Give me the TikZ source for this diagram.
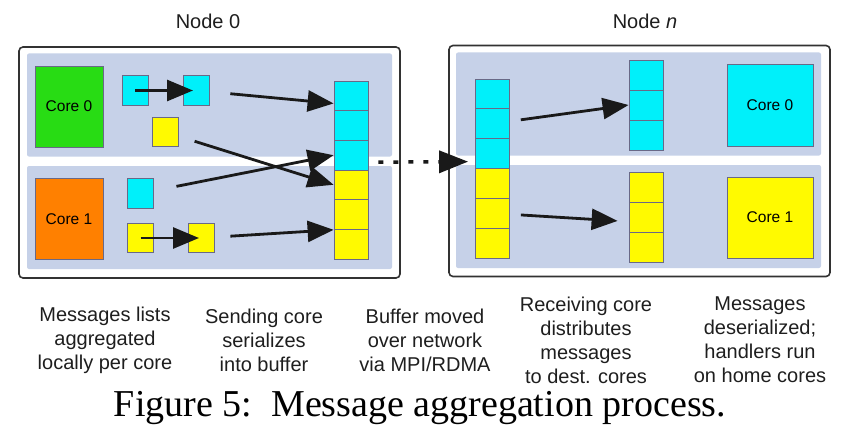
\documentclass[tikz,border=0pt]{standalone}
\usepackage{fontspec}
\setmainfont{Liberation Sans}
\newfontfamily\capfont{Liberation Serif}
\usepackage{xcolor}
\usetikzlibrary{arrows.meta,calc}
\definecolor{panelblue}{RGB}{198,209,232}
\definecolor{cellline}{RGB}{105,105,135}
\definecolor{boxline}{RGB}{50,50,50}
\definecolor{cyanmsg}{RGB}{0,240,250}
\definecolor{yellowmsg}{RGB}{255,250,0}
\definecolor{greencore}{RGB}{40,220,20}
\definecolor{orangecore}{RGB}{255,128,0}
\definecolor{textgray}{RGB}{30,30,30}

\begin{document}
\begin{tikzpicture}[x=1pt,y=-1pt,>={Triangle[length=26pt,width=21pt]},
 outer/.style={draw=boxline,fill=white,line width=1.6pt,rounded corners=4pt,minimum width=381pt,minimum height=231pt,inner sep=0pt},
 panel/.style={fill=panelblue,rounded corners=2pt,minimum width=365pt,minimum height=103pt,inner sep=0pt},
 core/.style={draw=cellline,line width=0.8pt,minimum width=68pt,minimum height=81pt,inner sep=0pt,font=\fontsize{15.5}{18}\selectfont},
 msg/.style={draw=cellline,line width=0.8pt,minimum width=26pt,minimum height=29.5pt,inner sep=0pt},
 cell/.style={draw=cellline,line width=0.8pt,minimum width=34pt,minimum height=29.8pt,inner sep=0pt},
 title/.style={font=\fontsize{20}{24}\selectfont,text=textgray},
 phase/.style={font=\fontsize{20}{24}\selectfont,align=center,text=textgray},
 flow/.style={line width=2.8pt,black!90},
 netlink/.style={line width=3.5pt,dash pattern=on 5pt off 10pt,shorten <=10pt,shorten >=7pt,
  -{Triangle[length=29pt,width=22pt]}}]
 \useasboundingbox (0,0) rectangle (843,436);

 \node[title] (lnode) at (208, 21) {Node 0};
 \node[title] (rnode) at (645, 21) {Node \textit{n}};

 \node[outer] (lbox) at (209.5, 162.5) {};
 \node[panel] (lup) at (209.5, 105) {};
 \node[panel] (llow) at (209.5, 217.5) {};
 \node[core,fill=greencore] (lcore0) at (69, 106.5) {Core 0};
 \node[core,fill=orangecore] (lcore1) at (69, 219) {Core 1};
 \node[msg,fill=cyanmsg] (c1) at (135, 90.5) {};
 \node[msg,fill=cyanmsg] (c2) at (196, 90.5) {};
 \node[msg,fill=yellowmsg] (ya) at (165, 132) {};
 \node[msg,fill=cyanmsg] (cb) at (140.5, 193.5) {};
 \node[msg,fill=yellowmsg] (yb1) at (140.5, 238) {};
 \node[msg,fill=yellowmsg] (yb2) at (201, 238) {};
 \node[cell,fill=cyanmsg] (buf1) at (351, 95.8) {};
 \node[cell,fill=cyanmsg] (buf2) at (351, 125.5) {};
 \node[cell,fill=cyanmsg] (buf3) at (351, 155.2) {};
 \node[cell,fill=yellowmsg] (buf4) at (351, 184.8) {};
 \node[cell,fill=yellowmsg] (buf5) at (351, 214.5) {};
 \node[cell,fill=yellowmsg] (buf6) at (351, 244.2) {};

 \node[outer] (rbox) at (639.5, 161) {};
 \node[panel] (rup) at (638.5, 104) {};
 \node[panel] (rlow) at (638.5, 216.5) {};
 \node[cell,fill=cyanmsg] (rb1) at (492.5, 93.9) {};
 \node[cell,fill=cyanmsg] (rb2) at (492.5, 123.7) {};
 \node[cell,fill=cyanmsg] (rb3) at (492.5, 153.6) {};
 \node[cell,fill=yellowmsg] (rb4) at (492.5, 183.4) {};
 \node[cell,fill=yellowmsg] (rb5) at (492.5, 213.2) {};
 \node[cell,fill=yellowmsg] (rb6) at (492.5, 243.1) {};
 \node[cell,fill=cyanmsg] (ru1) at (646, 75) {};
 \node[cell,fill=cyanmsg] (ru2) at (646, 105) {};
 \node[cell,fill=cyanmsg] (ru3) at (646, 135) {};
 \node[cell,fill=yellowmsg] (rl1) at (646, 187) {};
 \node[cell,fill=yellowmsg] (rl2) at (646, 217) {};
 \node[cell,fill=yellowmsg] (rl3) at (646, 247) {};
 \node[core,fill=cyanmsg,minimum width=86pt,minimum height=82pt] (rcore0) at (770, 105) {Core 0};
 \node[core,fill=yellowmsg,minimum width=86pt] (rcore1) at (770, 217.5) {Core 1};

 \path[->,flow]
 (c1.center) edge[shorten >=3pt] (c2.center)
 (c2) edge[shorten <=21pt] ($(buf1.west)!0.5!(buf1.south west)$)
 (ya) edge[shorten <=17pt] (buf4.west)
 (cb) edge[shorten <=23pt] (buf3.west)
 (yb1.center) edge[shorten >=2pt] (yb2.center)
 (yb2) edge[shorten <=16pt] (buf5.south west)
 ([yshift=-7pt]buf3.east) edge[netlink] ([yshift=-8pt]rb3.west)
 (rb2) edge[shorten <=11pt] (ru2.west)
 (rb5) edge[shorten <=11pt,shorten >=11pt] ($(rl2.west)!0.3!(rl2.south west)$);

 \node[phase] (p1) at (105, 340) {Messages lists\\aggregated\\locally per core};
 \node[phase] (p2) at (264, 340) {Sending core\\serializes\\into buffer};
 \node[phase] (p3) at (425, 340) {Buffer moved\\over network\\via MPI/RDMA};
 \node[phase] (p4) at (586, 340) {Receiving core\\distributes\\messages\\to dest. cores};
 \node[phase] (p5) at (760, 340) {Messages\\deserialized;\\handlers run\\on home cores};
 \node[font=\capfont\fontsize{38}{40}\selectfont,text=black] (fig) at (420, 408) {Figure 5:\ \ Message aggregation process.};
\end{tikzpicture}
\end{document}
